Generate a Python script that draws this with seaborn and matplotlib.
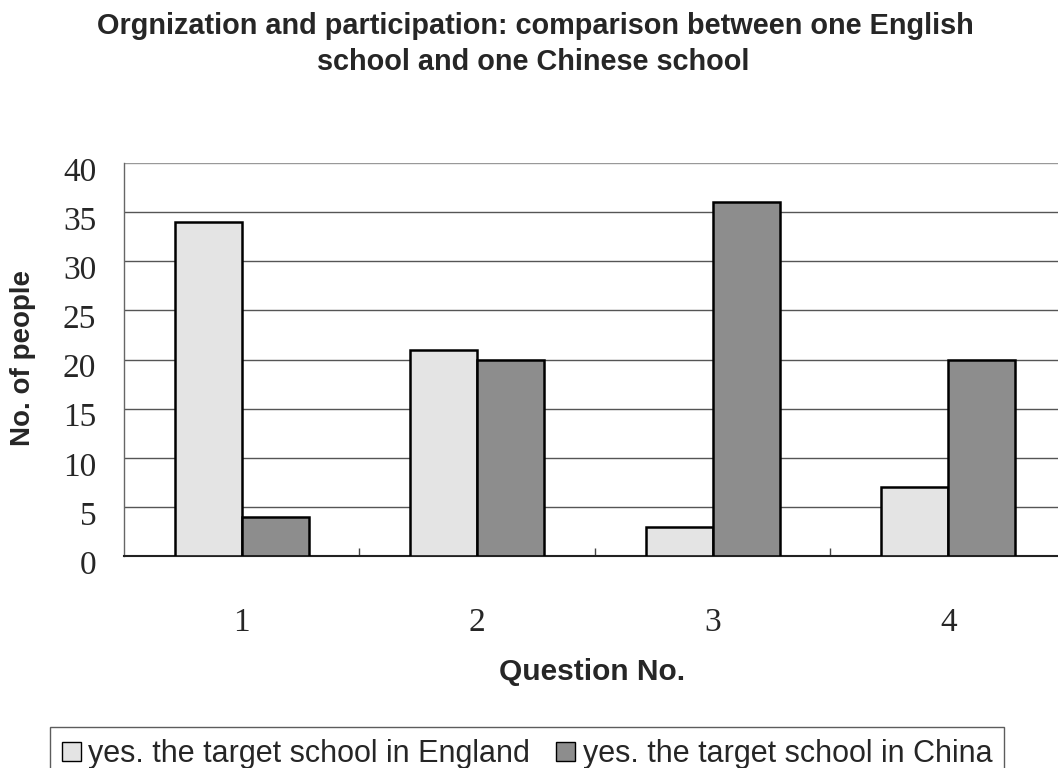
import matplotlib
matplotlib.use("Agg")
import matplotlib.pyplot as plt
import matplotlib.transforms as mtransforms
import seaborn as sns
import pandas as pd
from matplotlib.patches import Patch
from matplotlib.ticker import FixedLocator

questions = ["1", "2", "3", "4"]
series_names = ["yes. the target school in England", "yes. the target school in China"]
england = [34, 21, 3, 7]
china = [4, 20, 36, 20]
yticks = [0, 5, 10, 15, 20, 25, 30, 35, 40]

df = pd.DataFrame({
    "Question": questions * 2,
    "Series": [series_names[0]] * 4 + [series_names[1]] * 4,
    "Value": england + china,
})

sns.set_theme(style="white")
plt.rcParams["font.family"] = ["Liberation Sans", "DejaVu Sans"]

W, H = 1058, 768
fig = plt.figure(figsize=(W / 100, H / 100), dpi=100)
ax = fig.add_axes([124 / W, 1 - 556 / H, 942 / W, 393 / H])

palette = {series_names[0]: "#e4e4e4", series_names[1]: "#8d8d8d"}
sns.barplot(data=df, x="Question", y="Value", hue="Series", palette=palette,
            width=0.57, edgecolor="black", linewidth=1.8, saturation=1,
            ax=ax, legend=False, zorder=3)

ax.set_ylim(0, 40)
ax.set_xlim(-0.5, 3.5)
ax.set_yticks(yticks)
ax.yaxis.grid(True, color="#555555", linewidth=1.0, zorder=0)
ax.set_axisbelow(True)
gl = ax.get_ygridlines()
if gl:
    gl[-1].set_color("#999999")
for s in ["top", "right"]:
    ax.spines[s].set_visible(False)
ax.spines["left"].set_color("#666666")
ax.spines["left"].set_linewidth(1.0)
ax.spines["bottom"].set_color("#222222")
ax.spines["bottom"].set_linewidth(1.5)

ax.tick_params(axis="y", labelsize=24, length=0, pad=20)
ax.tick_params(axis="x", labelsize=24, length=0, pad=37)
for lab in ax.get_xticklabels() + ax.get_yticklabels():
    lab.set_fontfamily(["Liberation Serif", "DejaVu Serif"])
shift = mtransforms.ScaledTranslation(0, -6 / 100, fig.dpi_scale_trans)
for lab in ax.get_yticklabels():
    lab.set_transform(lab.get_transform() + shift)

ax.xaxis.set_minor_locator(FixedLocator([0.5, 1.5, 2.5]))
ax.tick_params(axis="x", which="minor", direction="in", length=6, width=1,
               color="#444444", bottom=True)

ax.set_xlabel("Question No.", fontsize=21.5, fontweight="bold")
ax.xaxis.set_label_coords((592 - 124) / 942, -(672 - 556) / 393)
ax.xaxis.label.set_va("center")
ax.set_ylabel("No. of people", fontsize=20, fontweight="bold")
ax.yaxis.set_label_coords((23 - 124) / 942, (556 - 358) / 393)
ax.yaxis.label.set_va("center")

fig.text(535 / W, 1 - 26 / H, "Orgnization and participation: comparison between one English",
         ha="center", va="center", fontsize=20.8, fontweight="bold")
fig.text(533 / W, 1 - 62 / H, "school and one Chinese school",
         ha="center", va="center", fontsize=20.8, fontweight="bold")

handles = [Patch(facecolor=palette[n], edgecolor="black", linewidth=1.0, label=n)
           for n in series_names]
leg = fig.legend(handles=handles, loc="upper left", bbox_to_anchor=(50 / W, 1 - 727 / H),
                 ncol=2, frameon=True, fancybox=False, edgecolor="#333333", fontsize=22,
                 handlelength=0.6, handleheight=0.6, handletextpad=0.26, columnspacing=0.85,
                 borderpad=0.4, borderaxespad=0)
leg.get_frame().set_linewidth(1.0)

fig.savefig("out.png", dpi=100, facecolor="white")
